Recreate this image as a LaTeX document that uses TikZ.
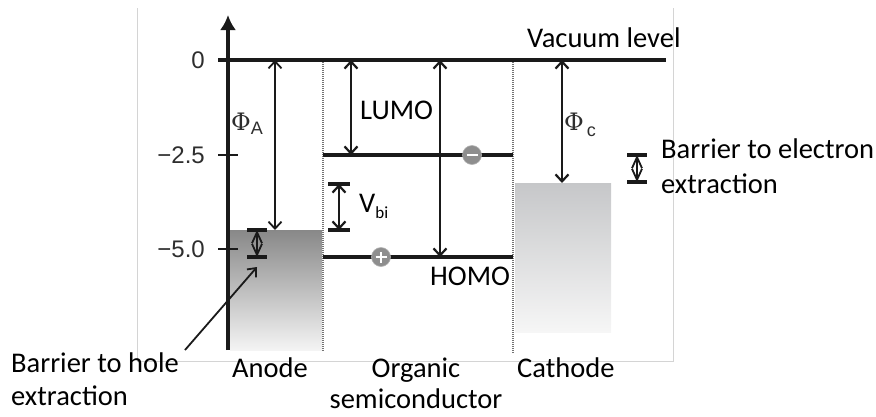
\documentclass[tikz,border=0pt]{standalone}
\usepackage{fontspec}
\setmainfont{Carlito}
\newfontfamily\axisfont{Liberation Sans}
\newfontfamily\phifont{DejaVu Serif}
\usetikzlibrary{arrows.meta}
\definecolor{ink}{HTML}{1A1A1A}
\definecolor{axlab}{HTML}{2E2E2E}
\definecolor{frame}{HTML}{D4D4D4}
\definecolor{anodetop}{HTML}{888888}
\definecolor{anodebot}{HTML}{F4F4F4}
\definecolor{cathtop}{HTML}{C6C7C9}
\definecolor{cathbot}{HTML}{F6F6F6}
\definecolor{chargefill}{HTML}{8E8E8E}
\begin{document}
\begin{tikzpicture}[x=1pt,y=-1pt,
  lbl/.style={inner sep=0pt,font=\fontsize{28.5}{34}\selectfont,text=black},
  axlbl/.style={inner sep=0pt,font=\axisfont\fontsize{24}{24}\selectfont,text=axlab,anchor=east},
  lvl/.style={line width=3.2pt,draw=ink},
  dbl/.style={line width=2.2pt,draw=ink,{Straight Barb[length=7pt,width=13pt]}-{Straight Barb[length=7pt,width=13pt]}},
  smalldbl/.style={line width=1.8pt,draw=ink,{Straight Barb[length=11pt,width=10pt]}-{Straight Barb[length=11pt,width=10pt]}},
  barend/.style={line width=3.2pt,draw=ink},
  dots/.style={line width=1.5pt,draw=black!55,dash pattern=on 1pt off 1pt},
  charge/.style={circle,fill=chargefill,draw=black!30,line width=0.6pt,minimum size=19pt,inner sep=0pt},
]
\useasboundingbox (0,0) rectangle (876,416);
% frame of the original figure
\draw[frame,line width=0.9pt] (137,8) -- (137,361) -- (673,361) -- (673,8);

% electrode shading
\shade[top color=anodetop,bottom color=anodebot] (230,230) rectangle (322,350);
\shade[top color=cathtop,bottom color=cathbot] (515,183) rectangle (611,332);

% coordinates
\coordinate (axbot) at (228,350);
\coordinate (axtop) at (228,15);
\coordinate (vacL) at (218,60);
\coordinate (vacR) at (666,60);
\coordinate (t25L) at (218,155);
\coordinate (t25R) at (238,155);
\coordinate (t50L) at (218,249);
\coordinate (t50R) at (238,249);
\coordinate (lumoL) at (323,155);
\coordinate (lumoR) at (513,155);
\coordinate (homoL) at (323,257);
\coordinate (homoR) at (513,257);
\coordinate (d1t) at (323,62);
\coordinate (d1b) at (323,352);
\coordinate (d2t) at (513,62);
\coordinate (d2b) at (513,353);

% dotted interfaces
\draw[dots] (d1t) -- (d1b);
\draw[dots] (d2t) -- (d2b);

% axis
\draw[line width=4pt,draw=ink,-{Latex[length=15pt,width=16pt]}] (axbot) -- (axtop);
\draw[lvl] (vacL) -- (vacR);
\draw[line width=1.8pt,draw=ink] (t25L) -- (t25R);
\draw[line width=1.8pt,draw=ink] (t50L) -- (t50R);
\node[axlbl] (l0) at (205,60) {0};
\node[axlbl] (l25) at (205,155) {\char"2212 2.5};
\node[axlbl] (l50) at (205,249) {\char"2212 5.0};

% levels
\draw[lvl] (lumoL) -- (lumoR);
\draw[lvl] (homoL) -- (homoR);

% energy arrows
\coordinate (phiAt) at (275,60);
\coordinate (phiAb) at (275,230);
\draw[dbl,line width=1.8pt] (phiAt) -- (phiAb);
\coordinate (lumot) at (351,60);
\coordinate (lumob) at (351,155);
\draw[dbl] (lumot) -- (lumob);
\coordinate (homot) at (440,60);
\coordinate (homob) at (440,257);
\draw[dbl] (homot) -- (homob);
\coordinate (phiCt) at (562,60);
\coordinate (phiCb) at (562,183);
\draw[dbl] (phiCt) -- (phiCb);

% V_bi
\coordinate (vbt) at (339,184);
\coordinate (vbb) at (339,230);
\draw[barend] (328,184) -- (350,184);
\draw[barend] (328,230) -- (350,230);
\draw[dbl] (vbt) -- (vbb);

% hole barrier
\coordinate (hbt) at (257,230);
\coordinate (hbb) at (257,257);
\draw[barend] (247,230) -- (267,230);
\draw[barend] (247,257) -- (267,257);
\draw[smalldbl] (hbt) -- (hbb);

% electron barrier
\coordinate (ebt) at (637,155);
\coordinate (ebb) at (637,182);
\draw[barend] (627,155) -- (647,155);
\draw[barend] (627,182) -- (647,182);
\draw[smalldbl] (ebt) -- (ebb);

% charges
\node[charge] (el) at (472,155) {};
\draw[white,line width=2.2pt] ([xshift=-5.5pt]el.center) -- ([xshift=5.5pt]el.center);
\node[charge] (ho) at (381,257) {};
\draw[white,line width=2pt] ([xshift=-5.5pt]ho.center) -- ([xshift=5.5pt]ho.center);
\draw[white,line width=2pt] ([yshift=-5.5pt]ho.center) -- ([yshift=5.5pt]ho.center);

% labels
\node[lbl,anchor=base west] (vac) at (527,47) {Vacuum level};
\node[lbl,anchor=base west] (lumo) at (360,119) {LUMO};
\node[lbl,anchor=base west] (homo) at (430,285) {HOMO};
\node[lbl,anchor=base west] (vbi) at (359,212) {V\raisebox{-6pt}{\fontsize{17}{17}\selectfont bi}};
\node[inner sep=0pt,anchor=base west] (phiA) at (231,130) {\phifont\fontsize{24}{24}\selectfont\textcolor{axlab}{\char"03A6}\raisebox{-4pt}{\axisfont\fontsize{18}{18}\selectfont\textcolor{axlab}{A}}};
\node[inner sep=0pt,anchor=base west] (phiC) at (564,130) {\phifont\fontsize{24}{24}\selectfont\textcolor{axlab}{\char"03A6}\hspace{3pt}\raisebox{-6pt}{\axisfont\fontsize{18}{18}\selectfont\textcolor{axlab}{c}}};
\node[lbl,anchor=base west] (bel1) at (661,158) {Barrier to electron};
\node[lbl,anchor=base west] (bel2) at (661,193) {extraction};
\node[lbl,anchor=base west] (bhl1) at (11,372) {Barrier to hole};
\node[lbl,anchor=base west] (bhl2) at (11,405) {extraction};
\node[lbl,anchor=base west] (anode) at (232,377) {Anode};
\node[lbl,anchor=base] (org1) at (416,377) {Organic};
\node[lbl,anchor=base] (org2) at (416,408) {semiconductor};
\node[lbl,anchor=base west] (cath) at (517,377) {Cathode};

% pointer to hole barrier
\coordinate (ptrs) at (185,350);
\coordinate (ptre) at (257,267);
\draw[line width=1.8pt,draw=ink,-{Straight Barb[length=7pt,width=12pt]}] (ptrs) -- (ptre);
\end{tikzpicture}
\end{document}
